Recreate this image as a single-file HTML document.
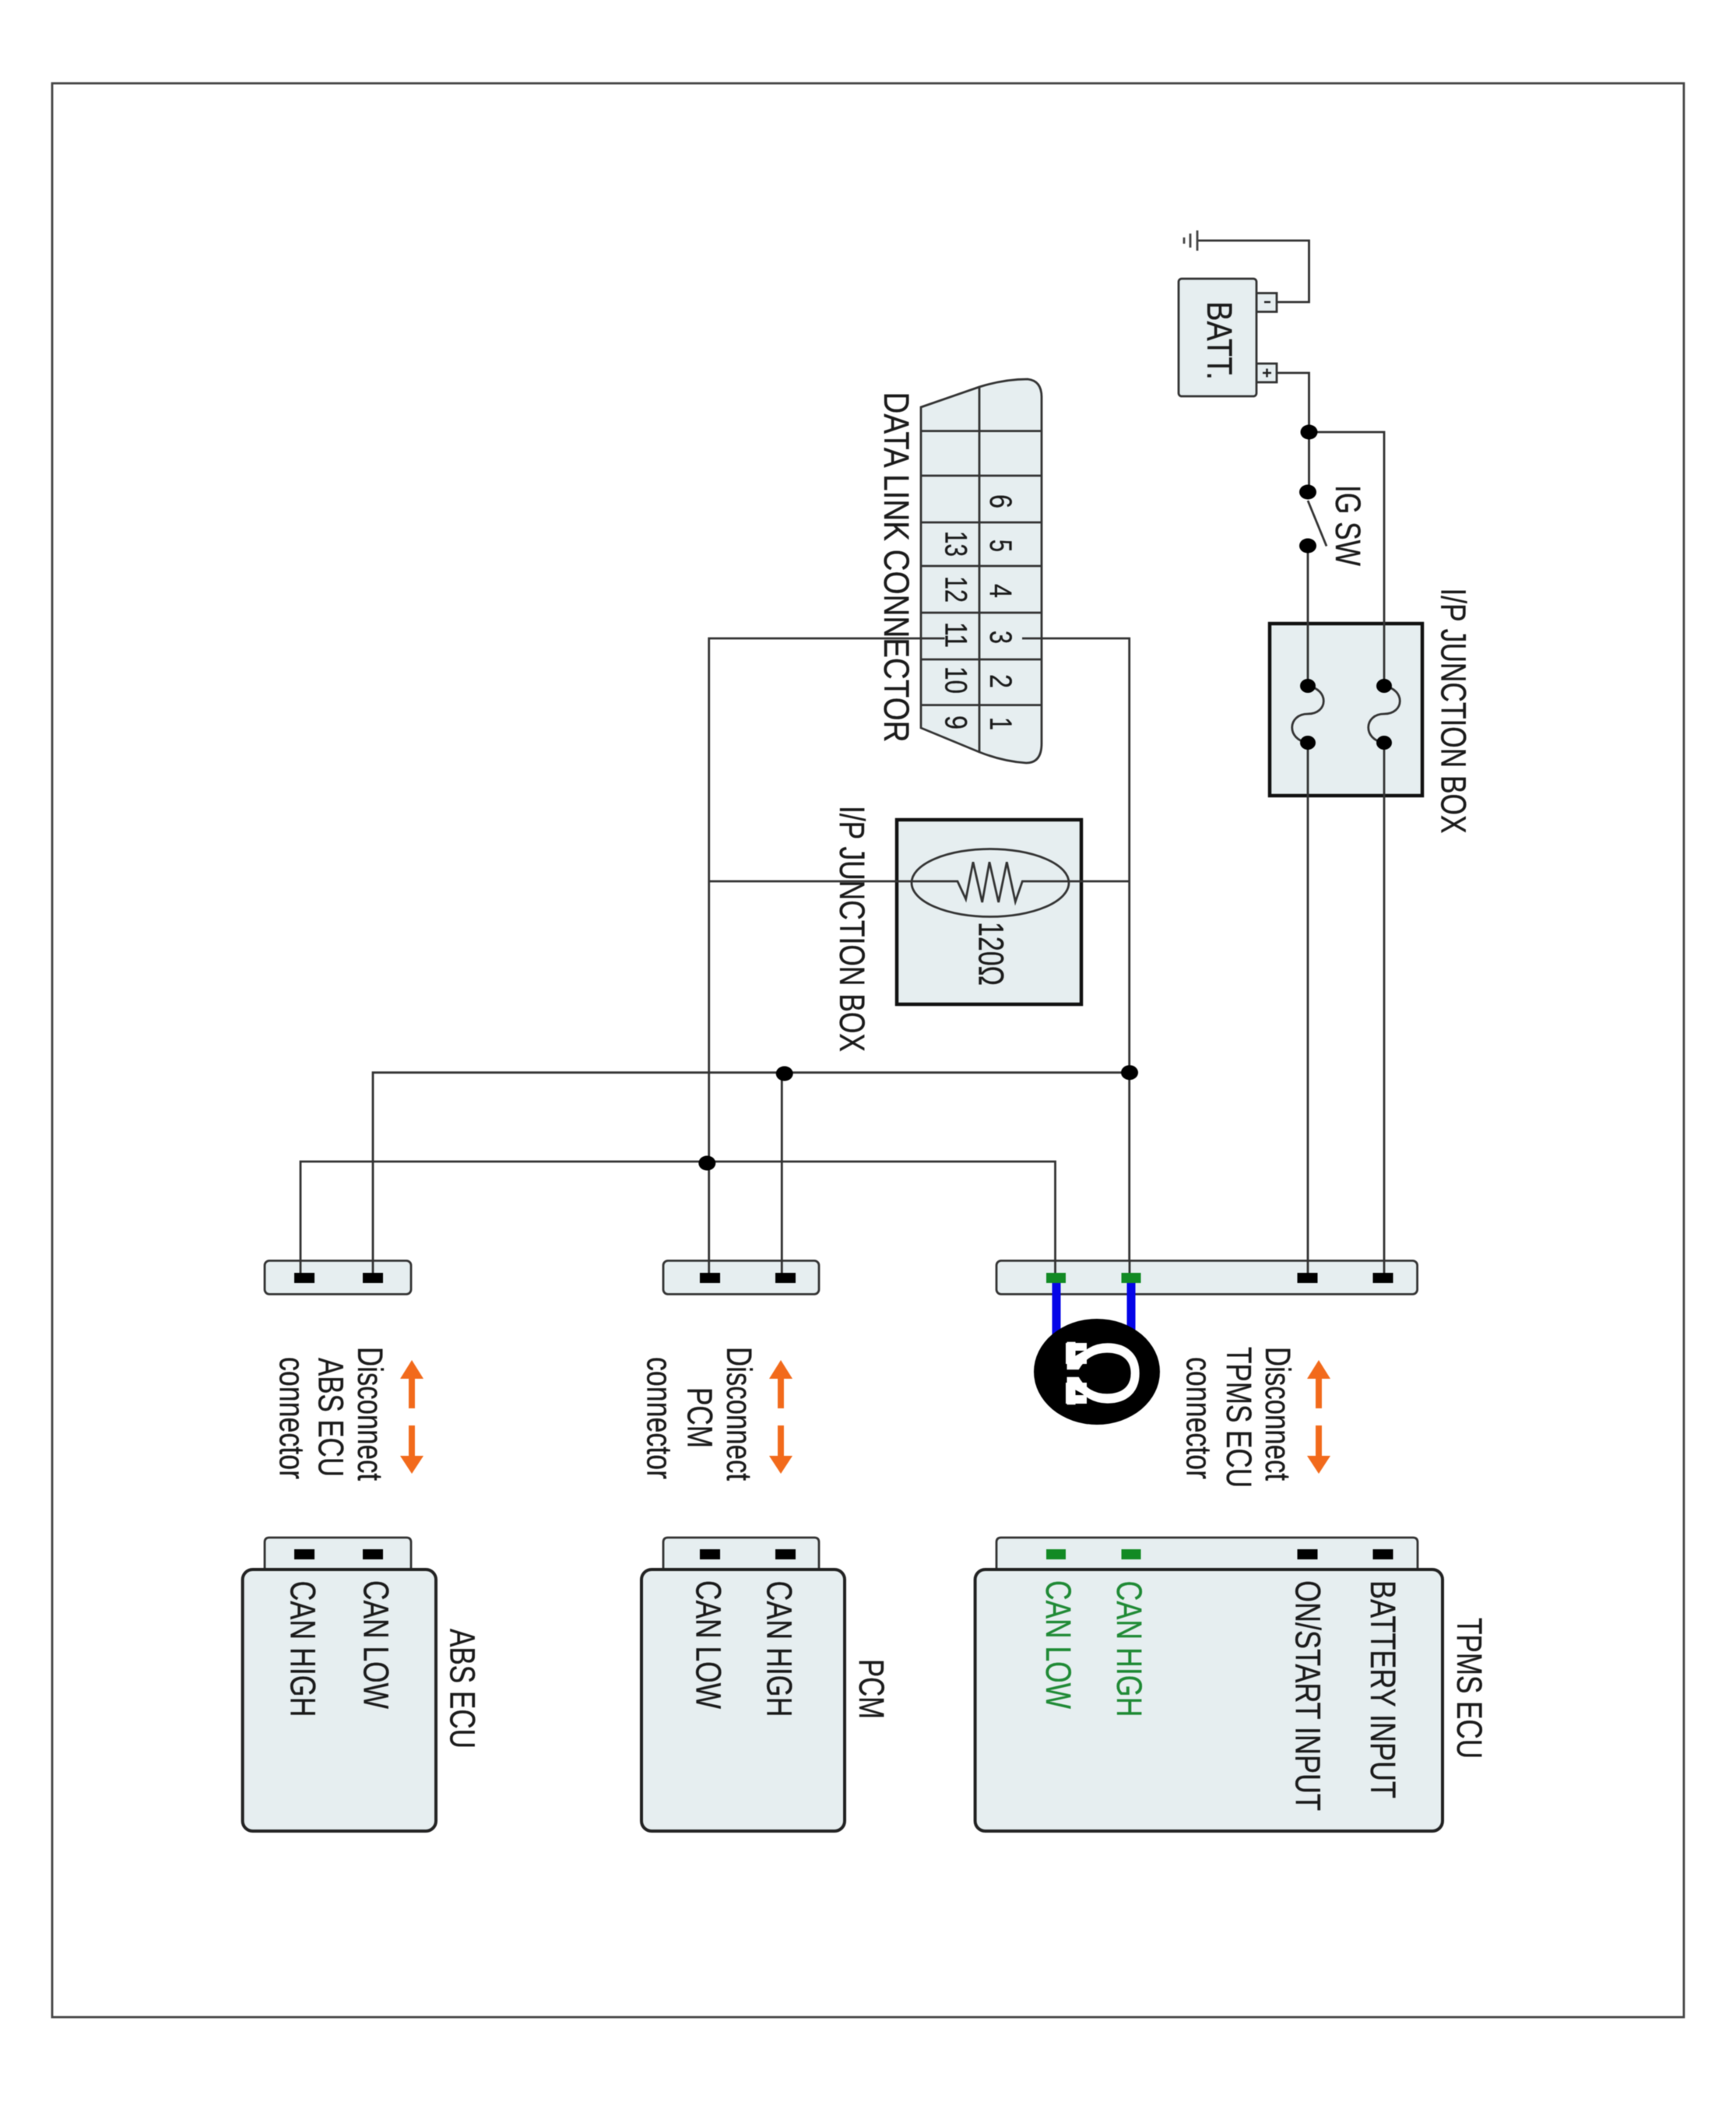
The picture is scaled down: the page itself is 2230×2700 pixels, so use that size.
<!DOCTYPE html>
<html>
<head>
<meta charset="utf-8">
<style>
html,body{margin:0;padding:0;background:#fff}
svg{display:block;filter:blur(0.5px)}
text{font-family:"Liberation Sans",sans-serif;fill:#1a1a1a;font-size:45px;stroke:#1a1a1a;stroke-width:.3}
text.g{fill:#1f8a35;stroke:#1f8a35}
.n{font-size:40px}
.w{fill:none;stroke:#333;stroke-width:2.8}
.b{fill:#e6eef0;stroke:#333;stroke-width:2.8}
.e{fill:#e6eef0;stroke:#222;stroke-width:4}
.j{fill:#e6eef0;stroke:#111;stroke-width:4.5}
.o{fill:#f26a1b}
</style>
</head>
<body>
<svg xmlns="http://www.w3.org/2000/svg" width="2230" height="2700" viewBox="0 0 2230 2700">
<rect width="2230" height="2700" fill="#fff"/>
<rect x="67" y="107" width="2096" height="2484" fill="none" stroke="#444" stroke-width="2.8"/>

<!-- boxes -->
<rect class="j" x="1631" y="801" width="196" height="221"/>
<rect class="j" x="1152" y="1053" width="237" height="237"/>

<!-- battery -->
<rect class="b" x="1614" y="376.500" width="26" height="24" />
<rect class="b" x="1614" y="467" width="26" height="24" />
<rect class="b" x="1514" y="358" width="100" height="151" rx="4"/>
<path d="M1624 388h8" stroke="#222" stroke-width="2.5"/>
<path d="M1622 479h11M1627.500 473.500v11" stroke="#222" stroke-width="2.5"/>

<!-- DLC -->
<path class="b" d="M1183 523 L1258 497 Q1290 487 1320 487 Q1338 489 1338 510 L1338 955 Q1338 980 1318 980 Q1288 978 1258 966 L1183 935 Z"/>
<path class="w" d="M1258 497V966M1183 553.600H1338M1183 611H1338M1183 671H1338M1183 727H1338M1183 787H1338M1183 847H1338M1183 905.600H1338"/>

<!-- wires -->
<path class="w" d="M1538 309H1681.500V388H1640M1640 479H1681.500V632M1681.500 555H1778V881M1680 701V881M1680 954V1635M1778 954V1635"/>
<path class="w" d="M1680 643L1704 701.500"/>
<path class="w" d="M1680 881C1708 886 1706 917 1680 917C1654 917 1652 950 1680 954"/>
<path class="w" d="M1778 881C1806 886 1804 917 1778 917C1752 917 1750 950 1778 954"/>
<path class="w" d="M1213.600 820H910.700V1635M1313 820H1450.700V1635"/>
<path class="w" d="M910.700 1132H1230L1240.700 1155L1250 1107.300L1261.700 1159L1271 1107.300L1282.700 1159L1293.300 1107.300L1304.300 1158.300L1313.300 1132H1451"/>
<path class="w" d="M479 1635V1377.700H1451M1004.300 1377.700V1635M386 1635V1492H1355.500V1635"/>
<ellipse cx="1272" cy="1134" rx="101" ry="43.500" fill="none" stroke="#333" stroke-width="2.8"/>

<!-- ground -->
<path d="M1538 296V322M1529 300V318M1521 305V313" stroke="#444" stroke-width="2.8" fill="none"/>

<!-- dots -->
<g fill="#000">
<ellipse cx="1681.500" cy="555" rx="11" ry="9.500"/>
<ellipse cx="1680" cy="632" rx="11" ry="9.500"/>
<ellipse cx="1680" cy="701" rx="11" ry="9.500"/>
<ellipse cx="1680" cy="881" rx="10" ry="9"/>
<ellipse cx="1680" cy="954" rx="10" ry="9"/>
<ellipse cx="1778" cy="881" rx="10" ry="9"/>
<ellipse cx="1778" cy="954" rx="10" ry="9"/>
<ellipse cx="1451" cy="1377.700" rx="11" ry="9.500"/>
<ellipse cx="1007.700" cy="1379" rx="11" ry="9.500"/>
<ellipse cx="908.300" cy="1494" rx="11" ry="9.500"/>
</g>

<!-- upper connectors -->
<rect class="b" x="340" y="1619.400" width="188" height="43" rx="6"/>
<rect class="b" x="852" y="1619.400" width="200" height="43" rx="6"/>
<rect class="b" x="1280" y="1619.400" width="540.600" height="43" rx="6"/>
<path class="w" d="M386 1618V1636M479 1618V1636M910.700 1618V1636M1004.300 1618V1636M1355.500 1618V1636M1451 1618V1636M1680 1618V1636M1778 1618V1636"/>
<g fill="#000">
<rect x="378" y="1635" width="26" height="13"/>
<rect x="466" y="1635" width="26" height="13"/>
<rect x="899" y="1635" width="26" height="13"/>
<rect x="996" y="1635" width="26" height="13"/>
<rect x="1666.500" y="1635" width="26" height="13"/>
<rect x="1763.500" y="1635" width="26" height="13"/>
</g>
<rect x="1351.500" y="1647" width="11" height="75" fill="#0505e8"/>
<rect x="1447.500" y="1647" width="11" height="75" fill="#0505e8"/>
<rect x="1344" y="1635" width="25" height="13" fill="#128a24"/>
<rect x="1440.500" y="1635" width="25" height="13" fill="#128a24"/>
<ellipse cx="1409" cy="1762" rx="81" ry="68" fill="#000"/>
<text transform="translate(1371,1719) rotate(90)" style="font-size:132px;fill:#fff;stroke:#fff;stroke-width:1" textLength="90" lengthAdjust="spacingAndGlyphs">Ω</text>
<path fill="#fff" fill-rule="evenodd" d="M1369 1725H1396V1752H1369ZM1379 1735V1743L1393 1735ZM1369 1776H1396V1803H1369ZM1379 1784V1792H1394Z"/>

<!-- lower connectors -->
<path class="b" d="M340 2018V1981q0-6 6-6H522q6 0 6 6V2018Z"/>
<path class="b" d="M852 2018V1981q0-6 6-6H1046q6 0 6 6V2018Z"/>
<path class="b" d="M1280 2018V1981q0-6 6-6H1815q6 0 6 6V2018Z"/>
<g fill="#000">
<rect x="378" y="1990" width="26" height="13"/>
<rect x="466" y="1990" width="26" height="13"/>
<rect x="899" y="1990" width="26" height="13"/>
<rect x="996" y="1990" width="26" height="13"/>
<rect x="1666.500" y="1990" width="26" height="13"/>
<rect x="1763.500" y="1990" width="26" height="13"/>
</g>
<rect x="1344" y="1990" width="25" height="13" fill="#128a24"/>
<rect x="1440.500" y="1990" width="25" height="13" fill="#128a24"/>
<rect class="e" x="311.600" y="2016" width="248.400" height="336" rx="13"/>
<rect class="e" x="824" y="2016" width="261" height="336" rx="13"/>
<rect class="e" x="1252.600" y="2016" width="600.400" height="336" rx="13"/>

<!-- arrows -->
<g class="o">
<path d="M529 1747L544 1771H533V1809H525V1771H514ZM525 1831H533V1870H544L529 1893L514 1870H525Z"/>
<path d="M1003 1747L1018 1771H1007V1809H999V1771H988ZM999 1831H1007V1870H1018L1003 1893L988 1870H999Z"/>
<path d="M1694 1747L1709 1771H1698V1809H1690V1771H1679ZM1690 1831H1698V1870H1709L1694 1893L1679 1870H1690Z"/>
</g>

<!-- labels -->
<text transform="translate(1136,503.500) rotate(90)" textLength="450" lengthAdjust="spacingAndGlyphs">DATA LINK CONNECTOR</text>
<text transform="translate(1851.500,755.500) rotate(90)" textLength="315" lengthAdjust="spacingAndGlyphs">I/P JUNCTION BOX</text>
<text transform="translate(1079,1035) rotate(90)" textLength="316" lengthAdjust="spacingAndGlyphs">I/P JUNCTION BOX</text>
<text transform="translate(1716,623) rotate(90)" textLength="104" lengthAdjust="spacingAndGlyphs">IG SW</text>
<text transform="translate(1551,387) rotate(90)" textLength="101" lengthAdjust="spacingAndGlyphs">BATT.</text>
<text transform="translate(1257.500,1184) rotate(90)" textLength="82" lengthAdjust="spacingAndGlyphs">120Ω</text>

<text class="n" transform="translate(1272,635) rotate(90)" textLength="18" lengthAdjust="spacingAndGlyphs">6</text>
<text class="n" transform="translate(1272,693) rotate(90)" textLength="16" lengthAdjust="spacingAndGlyphs">5</text>
<text class="n" transform="translate(1272,750) rotate(90)" textLength="18" lengthAdjust="spacingAndGlyphs">4</text>
<text class="n" transform="translate(1272,810) rotate(90)" textLength="17" lengthAdjust="spacingAndGlyphs">3</text>
<text class="n" transform="translate(1272,866) rotate(90)" textLength="18" lengthAdjust="spacingAndGlyphs">2</text>
<text class="n" transform="translate(1272,921) rotate(90)" textLength="17" lengthAdjust="spacingAndGlyphs">1</text>
<text class="n" transform="translate(1214.500,682) rotate(90)" textLength="33" lengthAdjust="spacingAndGlyphs">13</text>
<text class="n" transform="translate(1214.500,740) rotate(90)" textLength="34" lengthAdjust="spacingAndGlyphs">12</text>
<text class="n" transform="translate(1214.500,799) rotate(90)" textLength="33" lengthAdjust="spacingAndGlyphs">11</text>
<text class="n" transform="translate(1214.500,856) rotate(90)" textLength="35" lengthAdjust="spacingAndGlyphs">10</text>
<text class="n" transform="translate(1214.500,919) rotate(90)" textLength="18" lengthAdjust="spacingAndGlyphs">9</text>

<text transform="translate(460,1730) rotate(90)" textLength="172" lengthAdjust="spacingAndGlyphs">Disconnect</text>
<text transform="translate(409.500,1744) rotate(90)" textLength="153" lengthAdjust="spacingAndGlyphs">ABS ECU</text>
<text transform="translate(359.500,1743) rotate(90)" textLength="157" lengthAdjust="spacingAndGlyphs">connector</text>

<text transform="translate(934,1730) rotate(90)" textLength="172" lengthAdjust="spacingAndGlyphs">Disconnect</text>
<text transform="translate(883.500,1782) rotate(90)" textLength="78" lengthAdjust="spacingAndGlyphs">PCM</text>
<text transform="translate(831.500,1743) rotate(90)" textLength="157" lengthAdjust="spacingAndGlyphs">connector</text>

<text transform="translate(1626,1730) rotate(90)" textLength="172" lengthAdjust="spacingAndGlyphs">Disconnect</text>
<text transform="translate(1576,1730) rotate(90)" textLength="181" lengthAdjust="spacingAndGlyphs">TPMS ECU</text>
<text transform="translate(1524.500,1743) rotate(90)" textLength="157" lengthAdjust="spacingAndGlyphs">connector</text>

<text transform="translate(373.500,2030.500) rotate(90)" textLength="175" lengthAdjust="spacingAndGlyphs">CAN HIGH</text>
<text transform="translate(467.500,2030) rotate(90)" textLength="165" lengthAdjust="spacingAndGlyphs">CAN LOW</text>
<text transform="translate(578.500,2092) rotate(90)" textLength="154" lengthAdjust="spacingAndGlyphs">ABS ECU</text>

<text transform="translate(894.500,2030) rotate(90)" textLength="165" lengthAdjust="spacingAndGlyphs">CAN LOW</text>
<text transform="translate(985.500,2030.500) rotate(90)" textLength="175" lengthAdjust="spacingAndGlyphs">CAN HIGH</text>
<text transform="translate(1104,2131) rotate(90)" textLength="77" lengthAdjust="spacingAndGlyphs">PCM</text>

<text class="g" transform="translate(1344,2030) rotate(90)" textLength="165" lengthAdjust="spacingAndGlyphs">CAN LOW</text>
<text class="g" transform="translate(1435,2030.500) rotate(90)" textLength="175" lengthAdjust="spacingAndGlyphs">CAN HIGH</text>
<text transform="translate(1664.500,2030) rotate(90)" textLength="296" lengthAdjust="spacingAndGlyphs">ON/START INPUT</text>
<text transform="translate(1761,2030) rotate(90)" textLength="280" lengthAdjust="spacingAndGlyphs">BATTERY INPUT</text>
<text transform="translate(1872,2078) rotate(90)" textLength="181" lengthAdjust="spacingAndGlyphs">TPMS ECU</text>
</svg>
</body>
</html>
